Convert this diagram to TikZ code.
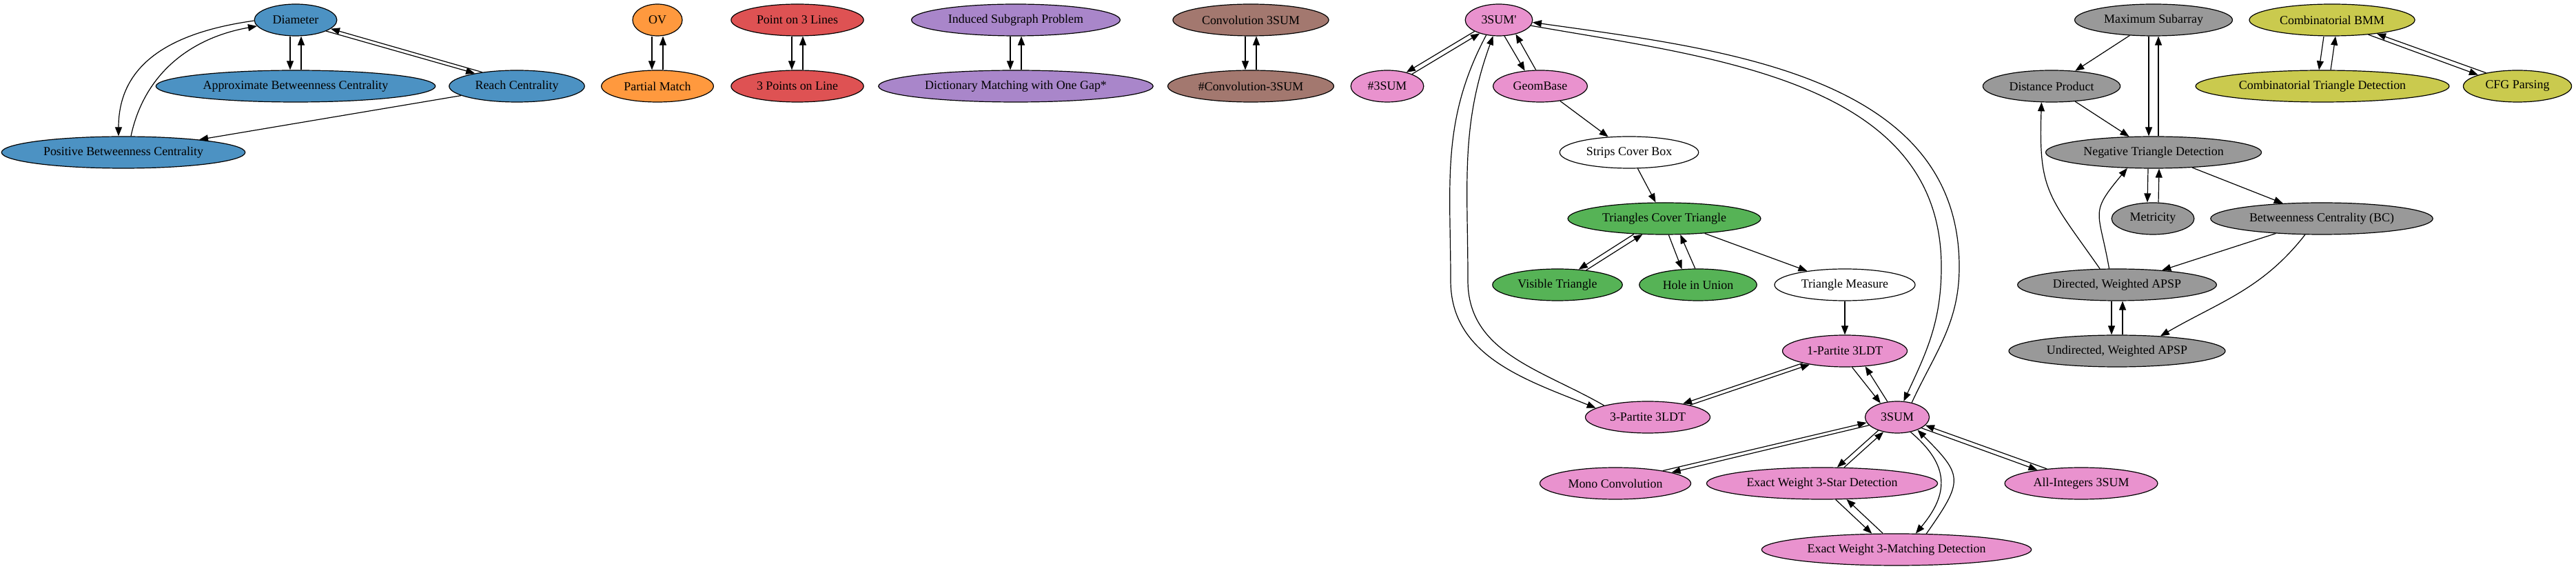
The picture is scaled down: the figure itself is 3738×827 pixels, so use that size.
\documentclass[tikz,border=0pt]{standalone}
\usepackage{fontspec}
\setmainfont{Liberation Serif}
\usetikzlibrary{arrows.meta,shapes.geometric}

\definecolor{gvblue}{HTML}{4C92C3}
\definecolor{gvorange}{HTML}{FF993E}
\definecolor{gvred}{HTML}{DE5253}
\definecolor{gvpurple}{HTML}{A986CA}
\definecolor{gvbrown}{HTML}{A3786F}
\definecolor{gvpink}{HTML}{E992CE}
\definecolor{gvgreen}{HTML}{56B356}
\definecolor{gvgray}{HTML}{999999}
\definecolor{gvolive}{HTML}{CACA4E}

\begin{document}
\begin{tikzpicture}[x=1pt,y=1pt,
  prob/.style={ellipse, draw, line width=1.2pt, inner xsep=9pt, inner ysep=2pt,
    minimum width=72pt, minimum height=46pt, font=\fontsize{17.92}{20}\selectfont},
  arr/.style={-{Triangle[length=13pt,width=10pt]}, line width=1.2pt}]
\useasboundingbox (0,0) rectangle (3738,827);

\node[prob, fill=gvblue] (dia) at (429,798) {Diameter};
\node[prob, fill=gvblue] (abc) at (429,702) {Approximate Betweenness Centrality};
\node[prob, fill=gvblue] (reach) at (750,702) {Reach Centrality};
\node[prob, fill=gvblue] (pbc) at (179,606) {Positive Betweenness Centrality};

\node[prob, fill=gvorange] (ov) at (954,798) {OV};
\node[prob, fill=gvorange] (pm) at (954,702) {Partial Match};
\node[prob, fill=gvred] (pol) at (1157,798) {Point on 3 Lines};
\node[prob, fill=gvred] (tpl) at (1157,702) {3 Points on Line};
\node[prob, fill=gvpurple] (isp) at (1474,798) {Induced Subgraph Problem};
\node[prob, fill=gvpurple] (dmg) at (1474,702) {Dictionary Matching with One Gap*};
\node[prob, fill=gvbrown] (conv) at (1815,798) {Convolution 3SUM};
\node[prob, fill=gvbrown] (nconv) at (1815,702) {\#Convolution-3SUM};

\node[prob, fill=gvpink] (tsp) at (2175,798) {3SUM\textquotesingle};
\node[prob, fill=gvpink] (nts) at (2013,702) {\#3SUM};
\node[prob, fill=gvpink] (geom) at (2235,702) {GeomBase};
\node[prob, fill=white] (strips) at (2364,606) {Strips Cover Box};
\node[prob, fill=gvgreen] (tct) at (2415,510) {Triangles Cover Triangle};
\node[prob, fill=gvgreen] (vis) at (2260,414) {Visible Triangle};
\node[prob, fill=gvgreen] (hole) at (2464,414) {Hole in Union};
\node[prob, fill=white] (tmeas) at (2677,414) {Triangle Measure};
\node[prob, fill=gvpink] (one) at (2677,318) {1-Partite 3LDT};
\node[prob, fill=gvpink] (three) at (2391,222) {3-Partite 3LDT};
\node[prob, fill=gvpink] (tsum) at (2753,222) {3SUM};
\node[prob, fill=gvpink] (mono) at (2344,126) {Mono Convolution};
\node[prob, fill=gvpink] (star) at (2644,126) {Exact Weight 3-Star Detection};
\node[prob, fill=gvpink] (allint) at (3020,126) {All-Integers 3SUM};
\node[prob, fill=gvpink] (match) at (2752,30) {Exact Weight 3-Matching Detection};

\node[prob, fill=gvgray] (maxsub) at (3125,798) {Maximum Subarray};
\node[prob, fill=gvgray] (dprod) at (2977,702) {Distance Product};
\node[prob, fill=gvgray] (ntd) at (3125,606) {Negative Triangle Detection};
\node[prob, fill=gvgray] (metr) at (3124,510) {Metricity};
\node[prob, fill=gvgray] (bc) at (3369,510) {Betweenness Centrality (BC)};
\node[prob, fill=gvgray] (dapsp) at (3072,414) {Directed, Weighted APSP};
\node[prob, fill=gvgray] (uapsp) at (3072,318) {Undirected, Weighted APSP};

\node[prob, fill=gvolive] (cbmm) at (3384,798) {Combinatorial BMM};
\node[prob, fill=gvolive] (ctd) at (3370,702) {Combinatorial Triangle Detection};
\node[prob, fill=gvolive] (cfg) at (3653,702) {CFG Parsing};

\coordinate (lo) at (2105,420);
\coordinate (li) at (2130,420);
\coordinate (ri) at (2817,440);
\coordinate (ro) at (2843,440);

\draw[arr] ([xshift=-8pt]dia.south) -- ([xshift=-8pt]abc.north);
\draw[arr] ([xshift=8pt]abc.north) -- ([xshift=8pt]dia.south);
\draw[arr] (dia.-20) -- (reach.163);
\draw[arr] (reach.158) -- (dia.-14);
\draw[arr] (reach) -- (pbc);
\draw[arr] (dia.181) to[out=188, in=90, looseness=1.1] ([xshift=-7pt]pbc.north);
\draw[arr] ([xshift=11pt]pbc.north) to[out=78, in=190] (dia.189);

\draw[arr] ([xshift=-8pt]ov.south) -- ([xshift=-8pt]pm.north);
\draw[arr] ([xshift=8pt]pm.north) -- ([xshift=8pt]ov.south);
\draw[arr] ([xshift=-8pt]pol.south) -- ([xshift=-8pt]tpl.north);
\draw[arr] ([xshift=8pt]tpl.north) -- ([xshift=8pt]pol.south);
\draw[arr] ([xshift=-8pt]isp.south) -- ([xshift=-8pt]dmg.north);
\draw[arr] ([xshift=8pt]dmg.north) -- ([xshift=8pt]isp.south);
\draw[arr] ([xshift=-8pt]conv.south) -- ([xshift=-8pt]nconv.north);
\draw[arr] ([xshift=8pt]nconv.north) -- ([xshift=8pt]conv.south);

\draw[arr] (tsp.205) -- (nts.36);
\draw[arr] (nts.26) -- (tsp.215);
\draw[arr] (tsp.-71) -- (geom.135);
\draw[arr] (geom.105) -- (tsp.-40);
\draw[arr] (geom) -- (strips);
\draw[arr] (strips) -- (tct);
\draw[arr] (tct.207) -- (vis.36);
\draw[arr] (vis.27) -- (tct.216);
\draw[arr] (tct.-75) -- (hole.136);
\draw[arr] (hole.100) -- (tct.-45);
\draw[arr] (tct) -- (tmeas);
\draw[arr] (tmeas) -- (one);
\draw[arr] (tsp.230) to[out=242, in=90] (lo) to[out=270, in=158] (three.170);
\draw[arr] (three.165) to[out=150, in=270] (li) to[out=90, in=250] (tsp.250);
\draw[arr] (tsp.-10) to[out=-10, in=90] (ri) to[out=270, in=65] (tsum.68);
\draw[arr] (tsum.45) to[out=65, in=270] (ro) to[out=90, in=-8] (tsp.-4);
\draw[arr] (one.196) -- (three.21);
\draw[arr] (three.16) -- (one.201);
\draw[arr] (one.-66) -- (tsum.140);
\draw[arr] (tsum.122) -- (one.-37);
\draw[arr] (mono.15) -- (tsum.190);
\draw[arr] (tsum.196) -- (mono.11);
\draw[arr] (tsum.215) -- (star.47);
\draw[arr] (star.36) -- (tsum.227);
\draw[arr] (allint.157) -- (tsum.-16);
\draw[arr] (tsum.-24) -- (allint.163);
\draw[arr] (tsum.-48) to[out=-40, in=50, looseness=1.3] (match.40);
\draw[arr] (match.28) to[out=55, in=-45, looseness=1.6] (tsum.-32);
\draw[arr] (star.-50) -- (match.147);
\draw[arr] (match.130) -- (star.-33);

\draw[arr] (maxsub) -- (dprod);
\draw[arr] ([xshift=-7pt]maxsub.south) -- ([xshift=-7pt]ntd.north);
\draw[arr] ([xshift=7pt]ntd.north) -- ([xshift=7pt]maxsub.south);
\draw[arr] (dprod) -- (ntd);
\draw[arr] ([xshift=-8pt]ntd.south) -- ([xshift=-8pt]metr.north);
\draw[arr] ([xshift=8pt]metr.north) -- ([xshift=8pt]ntd.south);
\draw[arr] (ntd) -- (bc);
\draw[arr] (bc) -- (dapsp);
\draw[arr] (bc.224) to[out=232, in=30] (uapsp.19);
\draw[arr] ([xshift=-8pt]dapsp.south) -- ([xshift=-8pt]uapsp.north);
\draw[arr] ([xshift=8pt]uapsp.north) -- ([xshift=8pt]dapsp.south);
\draw[arr] (dapsp.137) to[out=125, in=268, looseness=1.3] (dprod.238);
\draw[arr] (dapsp.116) to[out=100, in=230, looseness=1.5] (ntd.211);

\draw[arr] ([xshift=-12pt]cbmm.south) -- ([xshift=-5pt]ctd.north);
\draw[arr] ([xshift=12pt]ctd.north) -- ([xshift=5pt]cbmm.south);
\draw[arr] (cbmm.-22) -- (cfg.164);
\draw[arr] (cfg.157) -- (cbmm.-17);
\end{tikzpicture}
\end{document}
